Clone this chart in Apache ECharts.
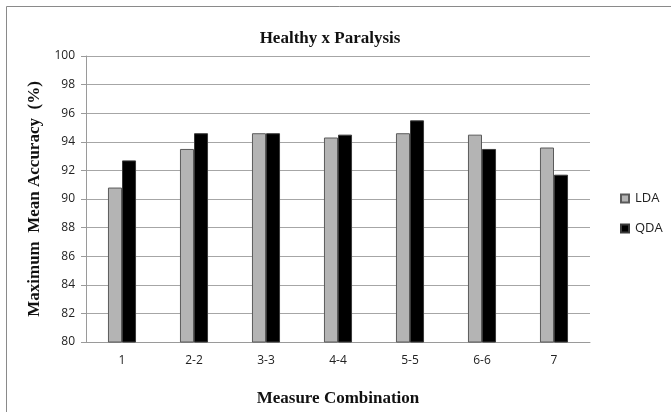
<!DOCTYPE html>
<html>
<head>
<meta charset="utf-8">
<script src="https://cdn.jsdelivr.net/npm/echarts@6/dist/echarts.min.js"></script>
<style>
  html, body { margin: 0; padding: 0; background: #fff; }
  #chart { width: 671px; height: 412px; }
</style>
</head>
<body>
<div id="chart"></div>
<script>
// Measure combinations on the x axis
const categories = ['1', '2-2', '3-3', '4-4', '5-5', '6-6', '7'];
// Maximum mean accuracy (%) for each classifier
const ldaValues = [90.8, 93.5, 94.6, 94.3, 94.6, 94.5, 93.6];
const qdaValues = [92.7, 94.6, 94.6, 94.5, 95.5, 93.5, 91.7];
// Y axis range and step
const yMin = 80, yMax = 100, yStep = 2;

const serif = '"Liberation Serif", "DejaVu Serif", serif';
const sans = '"Open Sans", "Liberation Sans", sans-serif';

const chart = echarts.init(document.getElementById('chart'));
chart.setOption({
  animation: false,
  backgroundColor: '#fff',
  graphic: [{
    type: 'rect',
    shape: { x: 6.5, y: 6.5, width: 700, height: 420 },
    style: { fill: 'none', stroke: '#8a8a8a', lineWidth: 1 },
    silent: true
  }],
  title: {
    text: 'Healthy x Paralysis',
    left: 325, top: 25, textAlign: 'center',
    textStyle: { fontFamily: serif, fontWeight: 'bold', fontSize: 17, color: '#111' }
  },
  legend: {
    orient: 'vertical',
    left: 615, top: 187,
    itemWidth: 8, itemHeight: 8, itemGap: 17,
    icon: 'rect',
    textStyle: { fontFamily: sans, fontSize: 13, color: '#222', padding: [0, 0, 0, 1] },
    data: ['LDA', 'QDA']
  },
  grid: { left: 86, right: 81, top: 56, bottom: 68, containLabel: false },
  xAxis: {
    type: 'category',
    data: categories,
    name: 'Measure Combination',
    nameLocation: 'middle',
    nameGap: 48,
    nameTextStyle: { fontFamily: serif, fontWeight: 'bold', fontSize: 17, color: '#111' },
    axisLine: { lineStyle: { color: '#9a9a9a', width: 1 } },
    axisTick: { show: false },
    axisLabel: { fontFamily: sans, fontSize: 12, color: '#222', margin: 13 }
  },
  yAxis: {
    type: 'value',
    min: yMin, max: yMax, interval: yStep,
    name: 'Maximum  Mean Accuracy  (%)',
    nameLocation: 'middle',
    nameGap: 42,
    nameRotate: 90,
    nameTextStyle: { fontFamily: serif, fontWeight: 'bold', fontSize: 17, color: '#111' },
    axisLine: { show: true, lineStyle: { color: '#9a9a9a', width: 1 } },
    axisTick: { show: true, length: 5, lineStyle: { color: '#9a9a9a' } },
    axisLabel: { fontFamily: sans, fontSize: 12, color: '#222', margin: 11 },
    splitLine: { lineStyle: { color: '#a6a6a6', width: 1 } }
  },
  series: [
    {
      name: 'LDA', type: 'bar', data: ldaValues,
      barGap: '0%', barCategoryGap: '61%',
      itemStyle: { color: '#b4b4b4', borderColor: '#5a5a5a', borderWidth: 1 }
    },
    {
      name: 'QDA', type: 'bar', data: qdaValues,
      itemStyle: { color: '#000', borderColor: '#3a3a3a', borderWidth: 1 }
    }
  ]
});
</script>
</body>
</html>
